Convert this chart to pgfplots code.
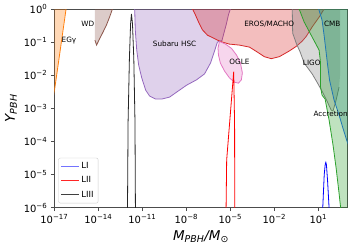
\documentclass[border=0pt]{standalone}
\usepackage{fontspec}
\setmainfont{DejaVu Sans}
\usepackage{pgfplots}
\pgfplotsset{compat=1.18}
\definecolor{tabblue}{HTML}{1F77B4}
\definecolor{taborange}{HTML}{FF7F0E}
\definecolor{tabgreen}{HTML}{2CA02C}
\definecolor{tabred}{HTML}{D62728}
\definecolor{tabpurple}{HTML}{9467BD}
\definecolor{tabbrown}{HTML}{8C564B}
\definecolor{tabpink}{HTML}{E377C2}
\definecolor{tabgray}{HTML}{7F7F7F}
\begin{document}
\begin{tikzpicture}
\begin{axis}[name=ax, scale only axis, width=293.4bp, height=198.7bp,
  xmode=log, ymode=log, xmin=1e-17, xmax=1e3, ymin=1e-6, ymax=1,
  xminorticks=false, yminorticks=false,
  xtick={1e-17,1e-14,1e-11,1e-8,1e-5,1e-2,1e1},
  xticklabels={10\textsuperscript{−17},10\textsuperscript{−14},10\textsuperscript{−11},10\textsuperscript{−8},10\textsuperscript{−5},10\textsuperscript{−2},10\textsuperscript{1}},
  ytick={1e-6,1e-5,1e-4,1e-3,1e-2,1e-1,1},
  yticklabels={10\textsuperscript{−6},10\textsuperscript{−5},10\textsuperscript{−4},10\textsuperscript{−3},10\textsuperscript{−2},10\textsuperscript{−1},10\textsuperscript{0}},
  tick label style={font=\fontsize{10}{11}\selectfont},
  tick align=outside, xtick pos=bottom, ytick pos=left,
  major tick length=3.5bp,
  tick style={black!70, line width=0.6bp},
  axis line style={black!70, line width=0.8bp},
  xlabel={\fontsize{13.5}{14}\selectfont\itshape M\textsubscript{PBH}/M\textsubscript{\upshape ⊙}},
  ylabel={\fontsize{13.5}{14}\selectfont\itshape Y\textsubscript{PBH}},
  legend style={at={(0.0136,0.022)}, anchor=south west, draw=black!20, rounded corners=2pt,
    font=\fontsize{8.5}{9}\selectfont, row sep=2.6bp, inner sep=2.5bp},
  legend cell align=left,
  legend image code/.code={\draw[#1] (0bp,0bp) -- (17.5bp,0bp);},
]
% EGgamma
\addplot[forget plot, draw=none, fill=taborange, fill opacity=0.3] coordinates {(7.943e-18,1.549e-3) (7.943e-17,2) (7.943e-18,2)};
\addplot[forget plot, taborange, line width=0.8bp] coordinates {(7.943e-18,1.549e-3) (7.943e-17,2)};
% WD
\addplot[forget plot, draw=none, fill=tabbrown, fill opacity=0.3] coordinates {(5.888e-15,2) (5.888e-15,0.1148) (7.586e-15,8.128e-2) (1.259e-14,0.1288) (2.138e-14,0.2042) (3.631e-14,0.3311) (6.026e-14,0.5888) (8.710e-14,0.9333) (1.047e-13,2)};
\addplot[forget plot, tabbrown, line width=0.8bp] coordinates {(5.888e-15,0.1148) (7.586e-15,8.128e-2) (1.259e-14,0.1288) (2.138e-14,0.2042) (3.631e-14,0.3311) (6.026e-14,0.5888) (8.710e-14,0.9333) (1.047e-13,2)};
% Subaru HSC
\addplot[forget plot, draw=none, fill=tabpurple, fill opacity=0.3] coordinates {(3.020e-12,2) (3.020e-12,1) (3.311e-12,0.2344) (4.169e-12,5.754e-2) (5.623e-12,2.042e-2) (9.120e-12,8.318e-3) (1.698e-11,3.548e-3) (3.162e-11,2.344e-3) (8.128e-11,1.905e-3) (2.089e-10,1.905e-3) (7.244e-10,2.188e-3) (2.188e-9,3.090e-3) (1.047e-8,5.012e-3) (4.898e-8,7.244e-3) (1.738e-7,1.096e-2) (4.467e-7,2.344e-2) (8.318e-7,5.370e-2) (1.318e-6,0.1) (2.692e-6,0.1122) (5.370e-6,0.3548) (7.413e-6,0.6607) (1e-5,1) (1.175e-5,2)};
\addplot[forget plot, tabpurple, line width=0.8bp] coordinates {(3.020e-12,2) (3.020e-12,1) (3.311e-12,0.2344) (4.169e-12,5.754e-2) (5.623e-12,2.042e-2) (9.120e-12,8.318e-3) (1.698e-11,3.548e-3) (3.162e-11,2.344e-3) (8.128e-11,1.905e-3) (2.089e-10,1.905e-3) (7.244e-10,2.188e-3) (2.188e-9,3.090e-3) (1.047e-8,5.012e-3) (4.898e-8,7.244e-3) (1.738e-7,1.096e-2) (4.467e-7,2.344e-2) (8.318e-7,5.370e-2) (1.318e-6,0.1) (2.692e-6,0.1122) (5.370e-6,0.3548) (7.413e-6,0.6607) (1e-5,1) (1.175e-5,2)};
% EROS/MACHO
\addplot[forget plot, draw=none, fill=tabred, fill opacity=0.3] coordinates {(2.630e-8,2) (2.630e-8,1) (3.631e-8,0.7586) (6.761e-8,0.4074) (1.259e-7,0.2344) (2.754e-7,0.1622) (7.079e-7,0.1318) (2.089e-6,0.1047) (8.511e-6,8.710e-2) (4.074e-5,8.128e-2) (1.995e-4,7.079e-2) (6.918e-4,5.012e-2) (2.089e-3,3.631e-2) (6.166e-3,3.162e-2) (2.188e-2,3.631e-2) (0.1023,5.370e-2) (0.3090,7.413e-2) (0.7943,0.1072) (1.479,0.1479) (3.802,0.2884) (11.48,0.5754) (24.55,1) (33.88,2)};
\addplot[forget plot, tabred, line width=0.8bp] coordinates {(2.630e-8,2) (2.630e-8,1) (3.631e-8,0.7586) (6.761e-8,0.4074) (1.259e-7,0.2344) (2.754e-7,0.1622) (7.079e-7,0.1318) (2.089e-6,0.1047) (8.511e-6,8.710e-2) (4.074e-5,8.128e-2) (1.995e-4,7.079e-2) (6.918e-4,5.012e-2) (2.089e-3,3.631e-2) (6.166e-3,3.162e-2) (2.188e-2,3.631e-2) (0.1023,5.370e-2) (0.3090,7.413e-2) (0.7943,0.1072) (1.479,0.1479) (3.802,0.2884) (11.48,0.5754) (24.55,1) (33.88,2)};
% OGLE
\addplot[forget plot, draw=none, fill=tabpink, fill opacity=0.3] coordinates {(1.820e-6,0.1047) (1.445e-6,6.607e-2) (1.549e-6,4.074e-2) (2.089e-6,2.344e-2) (3.981e-6,1.349e-2) (8.710e-6,8.318e-3) (1.905e-5,6.166e-3) (3.548e-5,5.754e-3) (5.623e-5,7.244e-3) (6.607e-5,1.175e-2) (4.898e-5,2.344e-2) (2.630e-5,4.074e-2) (1.202e-5,6.457e-2) (4.677e-6,8.710e-2) (1.820e-6,0.1047)};
\addplot[forget plot, tabpink, line width=0.8bp] coordinates {(1.820e-6,0.1047) (1.445e-6,6.607e-2) (1.549e-6,4.074e-2) (2.089e-6,2.344e-2) (3.981e-6,1.349e-2) (8.710e-6,8.318e-3) (1.905e-5,6.166e-3) (3.548e-5,5.754e-3) (5.623e-5,7.244e-3) (6.607e-5,1.175e-2) (4.898e-5,2.344e-2) (2.630e-5,4.074e-2) (1.202e-5,6.457e-2) (4.677e-6,8.710e-2) (1.820e-6,0.1047)};
% LIGO
\addplot[forget plot, draw=none, fill=tabgray, fill opacity=0.3] coordinates {(0.166,2) (0.166,1) (0.1778,0.1862) (0.3090,9.333e-2) (0.5754,5.012e-2) (1.072,2.344e-2) (3.802,1.096e-2) (8.128,6.166e-3) (17.78,3.311e-3) (38.90,1.660e-3) (74.13,8.913e-4) (100,8.318e-4) (162.2,1.778e-3) (257.0,4.365e-3) (302,1e-2) (302,2)};
\addplot[forget plot, tabgray, line width=0.8bp] coordinates {(0.166,1) (0.1778,0.1862) (0.3090,9.333e-2) (0.5754,5.012e-2) (1.072,2.344e-2) (3.802,1.096e-2) (8.128,6.166e-3) (17.78,3.311e-3) (38.90,1.660e-3) (74.13,8.913e-4) (100,8.318e-4) (162.2,1.778e-3) (257.0,4.365e-3)};
% Accretion
\addplot[forget plot, draw=none, fill=tabgreen, fill opacity=0.3] coordinates {(0.2692,2) (0.4898,1) (1.072,0.4074) (3.802,0.1413) (11.22,5.754e-2) (14.13,2.344e-2) (14.13,4.365e-3) (17.78,2.512e-3) (28.84,1.905e-3) (53.70,4.467e-4) (100,7.762e-5) (162.2,1.585e-5) (257.0,2.754e-6) (331.1,9.772e-7) (363.1,6e-7) (2000,6e-7) (2000,2)};
\addplot[forget plot, tabgreen, line width=0.8bp] coordinates {(0.2692,2) (0.4898,1) (1.072,0.4074) (3.802,0.1413) (11.22,5.754e-2) (14.13,2.344e-2) (14.13,4.365e-3) (17.78,2.512e-3) (28.84,1.905e-3) (53.70,4.467e-4) (100,7.762e-5) (162.2,1.585e-5) (257.0,2.754e-6) (331.1,9.772e-7) (363.1,6e-7)};
% CMB
\addplot[forget plot, draw=none, fill=tabblue!55!tabgreen, fill opacity=0.3] coordinates {(9.55,2) (10.47,1) (17.78,0.4677) (24.55,0.1622) (35.48,4.074e-2) (42.66,2.042e-2) (57.54,7.244e-3) (117.5,1.778e-3) (257.0,6.310e-4) (446.7,2.754e-4) (851.1,1.096e-4) (1660,4.467e-5) (2000,4.467e-5) (2000,2)};
\addplot[forget plot, tabblue, line width=0.8bp] coordinates {(9.55,2) (10.47,1) (17.78,0.4677) (24.55,0.1622) (35.48,4.074e-2) (42.66,2.042e-2) (57.54,7.244e-3) (117.5,1.778e-3) (257.0,6.310e-4) (446.7,2.754e-4) (851.1,1.096e-4) (1660,4.467e-5)};
% LI, LII, LIII
\addplot[blue, line width=0.8bp, forget plot] coordinates {(19.50,1e-7) (19.95,1e-6) (25.12,1e-5) (29.51,2.089e-5) (32.36,2.344e-5) (35.48,1.995e-5) (42.66,6.31e-6) (53.70,1e-6) (56.23,1e-7)};
\addplot[red, line width=0.8bp, forget plot] coordinates {(5.012e-6,1e-7) (5.129e-6,1e-6) (5.623e-6,2.754e-5) (8.710e-6,3.162e-4) (1.698e-5,1.288e-2) (1.950e-5,3.162e-4) (1.995e-5,1e-6) (1.995e-5,1e-7)};
\addplot[black!85, line width=0.8bp, forget plot] coordinates {(9.55e-13,1e-7) (9.77e-13,1e-6) (1.072e-12,3.98e-4) (1.318e-12,3.16e-2) (1.585e-12,0.355) (1.820e-12,0.708) (2.138e-12,0.355) (2.630e-12,3.16e-2) (3.162e-12,3.98e-4) (3.388e-12,1e-6) (3.467e-12,1e-7)};
\addlegendimage{blue!55, line width=1bp}
\addlegendentry{LI}
\addlegendimage{red!85, line width=1bp}
\addlegendentry{LII}
\addlegendimage{black!75, line width=1bp}
\addlegendentry{LIII}
% labels
\begin{scope}[every node/.style={font=\fontsize{7.3}{8}\selectfont, inner sep=0pt}]
\node at (axis cs:1e-16,0.115) {EGγ};
\node at (axis cs:1.95e-15,0.355) {WD};
\node at (axis cs:1.585e-9,0.0871) {Subaru HSC};
\node at (axis cs:4.47e-3,0.355) {EROS/MACHO};
\node at (axis cs:4.17e-5,0.0257) {OGLE};
\node at (axis cs:3.55,0.024) {LIGO};
\node at (axis cs:89,0.347) {CMB};
\node at (axis cs:69.2,7.08e-4) {Accretion};
\end{scope}
\end{axis}
\pgfresetboundingbox
\path (ax.south west) ++(-54.3bp,-42.3bp) rectangle ++(357bp,250bp);
\end{tikzpicture}
\end{document}
